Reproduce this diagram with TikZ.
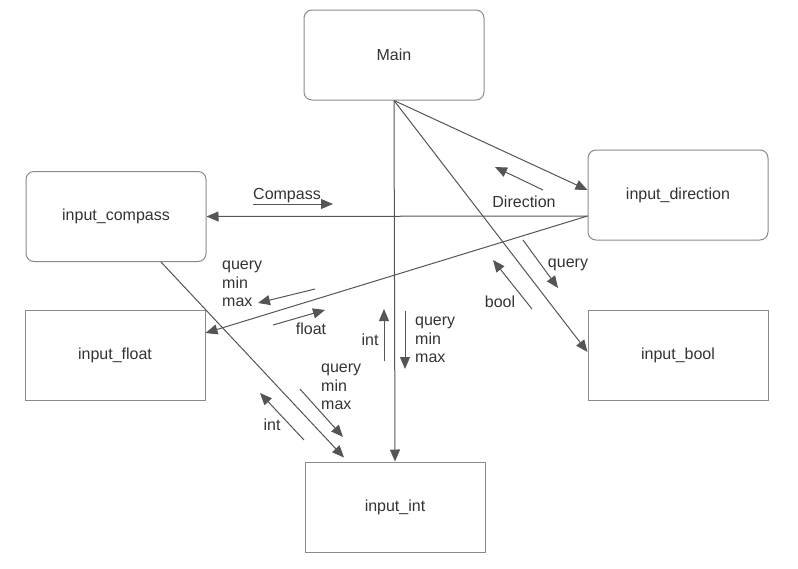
\documentclass[tikz,border=0pt]{standalone}
\usepackage{fontspec}
\setmainfont{Liberation Sans}
\usetikzlibrary{arrows.meta,calc}
\definecolor{linec}{HTML}{555555}
\definecolor{boxc}{HTML}{8A8A8A}
\definecolor{txtc}{HTML}{333333}
\tikzset{
  box/.style={draw=boxc, line width=1pt, minimum width=180pt, minimum height=90pt, inner sep=0pt, font=\fontsize{16}{18.5}\selectfont, text=txtc},
  rbox/.style={box, rounded corners=8pt},
  conn/.style={draw=linec, line width=1pt, -{Triangle[length=12pt,width=10pt]}},
  lbl/.style={font=\fontsize{16}{18.5}\selectfont, text=txtc, inner sep=0pt, align=left, yshift=-2pt}
}
\begin{document}
\begin{tikzpicture}[x=1pt,y=-1pt]
\useasboundingbox (0,0) rectangle (798,568);
% boxes
\node[rbox] (main) at (394,55) {Main};
\node[rbox] (dir) at (678,195) {input\_direction};
\node[rbox] (comp) at (116,216.5) {input\_compass};
\node[box] (float) at (115,355) {input\_float};
\node[box] (bool) at (678,355) {input\_bool};
\node[box] (int) at (395,507) {input\_int};
% main connectors
\draw[conn] (main.south) -- ([yshift=5pt]dir.west);
\draw[conn] (main.south) -- ([yshift=3pt]bool.west);
\draw[conn] (main.south) -- (int.north);
\draw[conn] ([yshift=-21pt]dir.west) -- (comp.east);
\draw[conn] ([yshift=-21pt]dir.west) -- ([yshift=22pt]float.east);
\draw[conn] ([xshift=45pt]comp.south) -- ([xshift=-51pt,yshift=4pt]int.north);
% labels
\node[lbl] (lcomp) at (287,194) {Compass};
\coordinate (c1) at (253,204); \coordinate (c2) at (333,204);
\draw[conn] (c1) -- (c2);
\node[lbl] (ldir) at (524,200) {Direction};
\coordinate (d1) at (543,190); \coordinate (d2) at (495,167);
\draw[conn] (d1) -- (d2);
\node[lbl] (lq1) at (568,263) {query};
\coordinate (q1) at (523,240); \coordinate (q2) at (558,288);
\draw[conn] (q1) -- (q2);
\node[lbl] (lbool) at (500,300) {bool};
\coordinate (b1) at (532,309); \coordinate (b2) at (493,260);
\draw[conn] (b1) -- (b2);
\node[lbl, anchor=west] (lqf) at (222,282) {query\\min\\max};
\coordinate (f1) at (315,289); \coordinate (f2) at (258,303);
\draw[conn] (f1) -- (f2);
\node[lbl] (lfloat) at (311,327) {float};
\coordinate (g1) at (273,325); \coordinate (g2) at (325,310);
\draw[conn] (g1) -- (g2);
\node[lbl] (lint1) at (370,338) {int};
\coordinate (i1) at (384,361); \coordinate (i2) at (384,309);
\draw[conn] (i1) -- (i2);
\node[lbl, anchor=west] (lqi) at (415,338) {query\\min\\max};
\coordinate (j1) at (405,311); \coordinate (j2) at (405,369);
\draw[conn] (j1) -- (j2);
\node[lbl, anchor=west] (lqc) at (321,385) {query\\min\\max};
\coordinate (k1) at (300,389); \coordinate (k2) at (343,437);
\draw[conn] (k1) -- (k2);
\node[lbl] (lint2) at (272,423) {int};
\coordinate (m1) at (304,440); \coordinate (m2) at (260,393);
\draw[conn] (m1) -- (m2);
\end{tikzpicture}
\end{document}
